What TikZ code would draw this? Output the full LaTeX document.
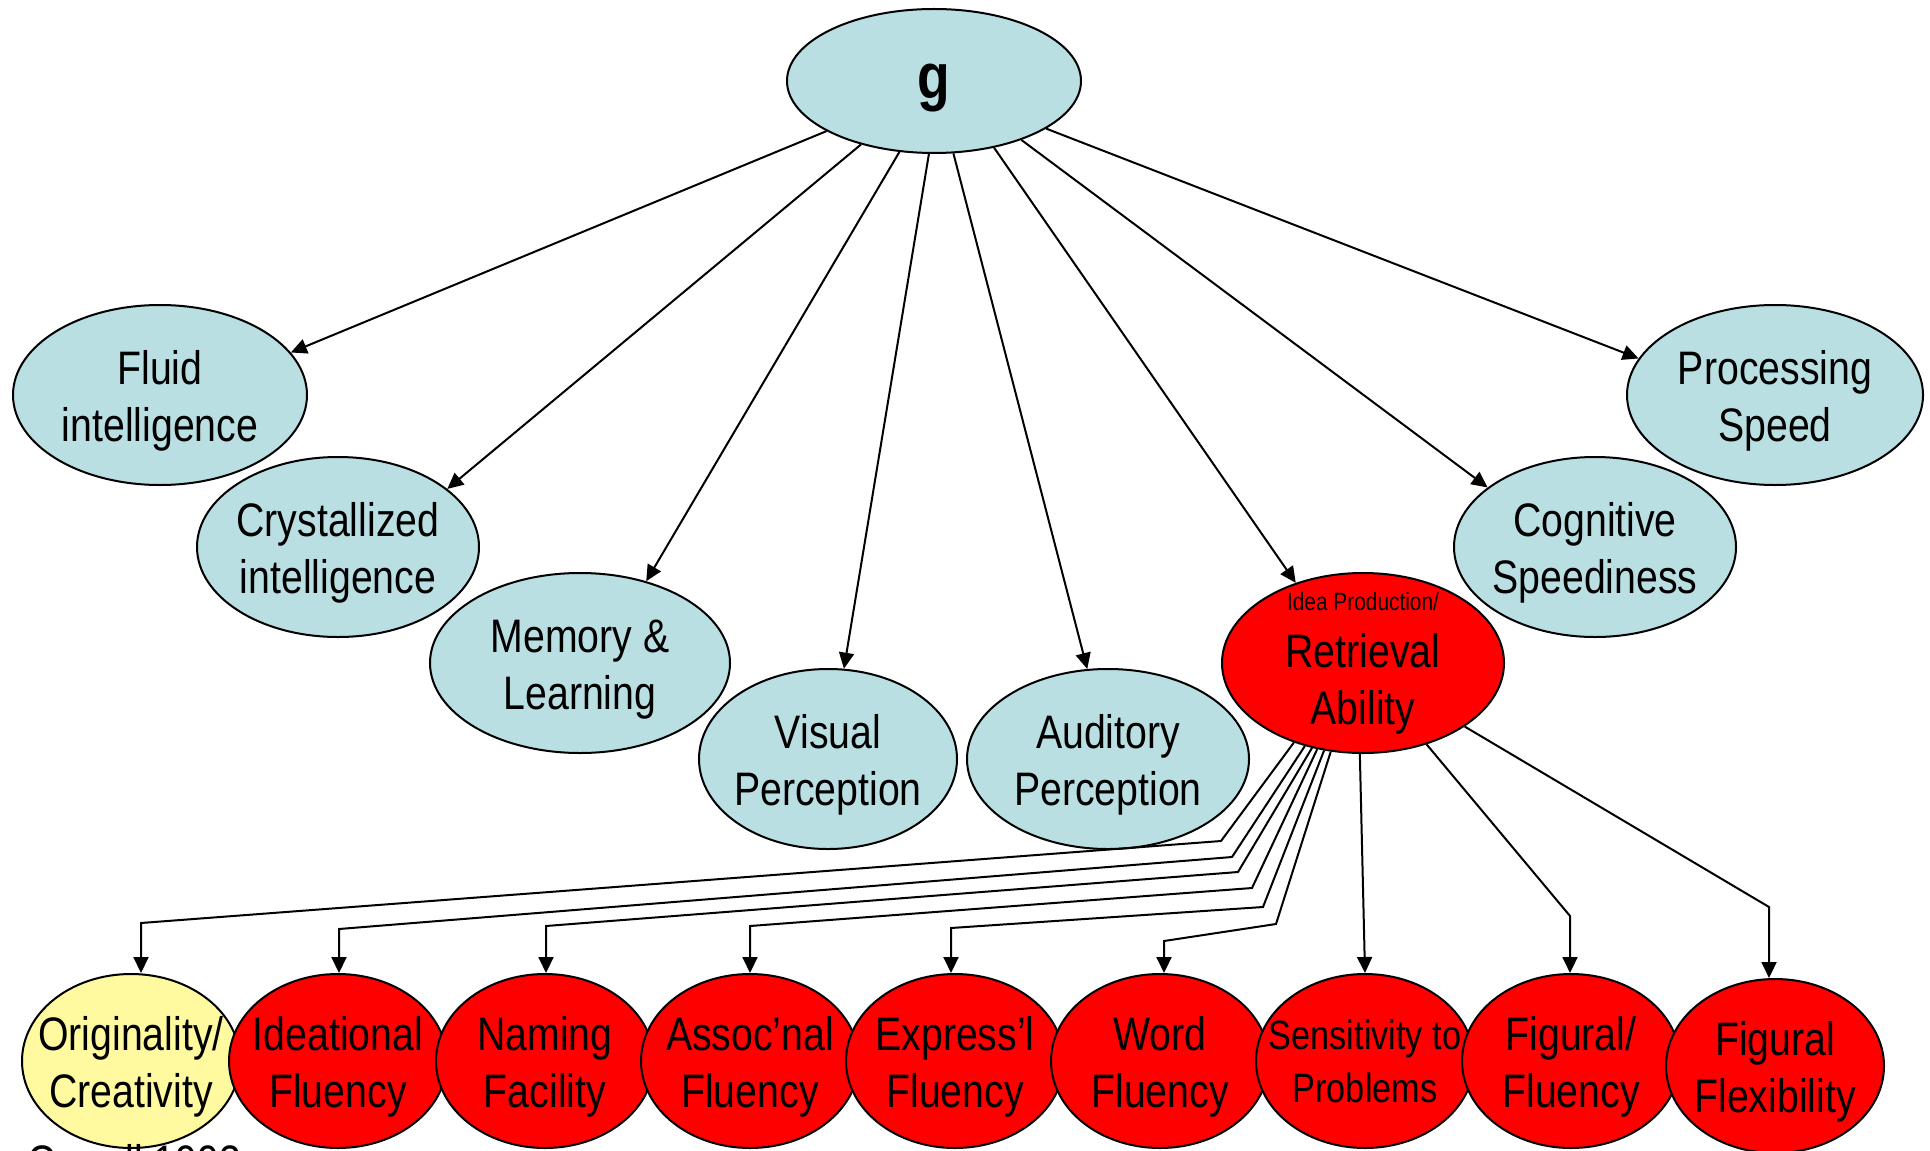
\documentclass[tikz,border=0pt]{standalone}
\usepackage{fontspec}
\setmainfont[FakeStretch=0.835]{Liberation Sans}
\usetikzlibrary{arrows.meta,shapes.geometric}
\definecolor{lblue}{RGB}{185,223,227}
\definecolor{cred}{RGB}{255,0,0}
\definecolor{cyel}{RGB}{255,250,160}
\newcommand{\dn}{\rule{0pt}{23pt}}
\begin{document}
\begin{tikzpicture}[x=0.5pt,y=-0.5pt,
  base/.style={ellipse,draw=black,line width=1pt,inner sep=-16pt,align=center,
    font=\fontsize{23.5}{28.5}\selectfont},
  abil/.style={base,fill=lblue,minimum height=90pt,minimum width=#1},
  bot/.style={base,fill=cred,minimum width=109pt,minimum height=87pt},
  arr/.style={-{Triangle[length=8pt,width=7.5pt]},line width=1pt},
  src/.style={anchor=north west,inner sep=0pt,font=\fontsize{23.5}{28.5}\selectfont}]
\useasboundingbox (0,0) rectangle (1930,1150);
\fill[white] (0,0) rectangle (1930,1150);

% top ability nodes
\node[abil=147pt,minimum height=72pt] (g) at (934,81) {\fontsize{32}{32}\selectfont\bfseries\rule{0pt}{24pt}g};
\node[abil=147pt] (fluid) at (160,395) {\dn Fluid\\intelligence};
\node[abil=141pt] (cryst) at (338,547) {\dn Crystallized\\intelligence};
\node[abil=150pt] (mem) at (580,663) {\dn Memory \&\\Learning};
\node[abil=129pt] (vis) at (828,759) {\dn Visual\\Perception};
\node[abil=141pt] (aud) at (1108,759) {\dn Auditory\\Perception};
\node[abil=141pt,fill=cred] (ret) at (1363,663) {{\fontsize{12.5}{14}\selectfont Idea Production/}\\Retrieval\\Ability};
\node[abil=148pt] (proc) at (1775,395) {\dn Processing\\Speed};
\node[abil=141pt] (cog) at (1595,547) {\dn Cognitive\\Speediness};

% bottom row
\node[bot,fill=cyel] (o1) at (131,1061) {\dn Originality/\\Creativity};
\node[bot] (o2) at (338,1061) {\dn Ideational\\Fluency};
\node[bot] (o3) at (545,1061) {\dn Naming\\Facility};
\node[bot] (o4) at (750,1061) {\dn Assoc'nal\\Fluency};
\node[bot] (o5) at (955,1061) {\dn Express'l\\Fluency};
\node[bot] (o6) at (1160,1061) {\dn Word\\Fluency};
\node[bot,font=\fontsize{20.5}{26.5}\selectfont] (o7) at (1365,1061) {Sensitivity to\\Problems};
\node[bot] (o8) at (1571,1061) {\dn Figural/\\Fluency};
\node[bot] (o9) at (1775,1066) {\dn Figural\\Flexibility};

\node[src] (carroll) at (27,1144) {Carroll 1993};

% arrows from g
\draw[arr] (g.205.7) -- (fluid.18.7);
\draw[arr] (g.221.3) -- (cryst.28.5);
\draw[arr] (g.244.7) -- (mem.51.4);
\draw[arr] (g.266.1) -- (vis.80.3);
\draw[arr] (g.285.5) -- (aud.103.6);
\draw[arr] (g.312.3) -- (ret.130.1);
\draw[arr] (g.326.2) -- (cog.151.2);
\draw[arr] (g.337.8) -- (proc.165.1);

% fan from retrieval
\coordinate (b1) at (1221,841); \coordinate (c1) at (141,923);
\coordinate (b2) at (1232,857); \coordinate (c2) at (339,929);
\coordinate (b3) at (1238,872); \coordinate (c3) at (546,926);
\coordinate (b4) at (1252,888); \coordinate (c4) at (750,926);
\coordinate (b5) at (1263,907); \coordinate (c5) at (951,928);
\coordinate (b6) at (1276,924); \coordinate (c6) at (1164,941);
\coordinate (b8) at (1570,916);
\coordinate (b9) at (1769,907);
\draw[arr] (ret.229.3) -- (b1) -- (c1) -- (c1 |- o1.north);
\draw[arr] (ret.235.1) -- (b2) -- (c2) -- (c2 |- o2.north);
\draw[arr] (ret.239) -- (b3) -- (c3) -- (c3 |- o3.north);
\draw[arr] (ret.242.6) -- (b4) -- (c4) -- (c4 |- o4.north);
\draw[arr] (ret.246.6) -- (b5) -- (c5) -- (c5 |- o5.north);
\draw[arr] (ret.250.2) -- (b6) -- (c6) -- (c6 |- o6.north);
\draw[arr] (ret.268) -- (o7.north);
\draw[arr] (ret.308.4) -- (b8) -- (b8 |- o8.north);
\draw[arr] (ret.328.1) -- (b9) -- (b9 |- o9.north);
\end{tikzpicture}
\end{document}
